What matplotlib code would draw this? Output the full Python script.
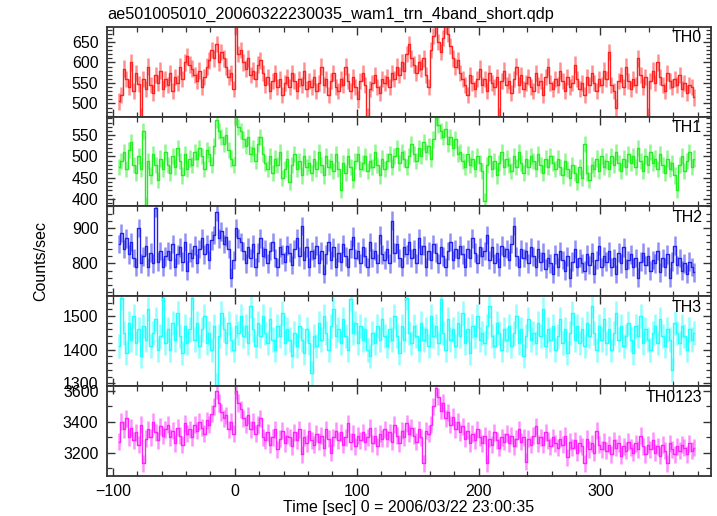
import numpy as np
import matplotlib.pyplot as plt
from matplotlib.ticker import MultipleLocator

# WAM light curves, 2 s bins starting at t = -95 s
t0 = -95.0
bin_width = 2.0

th0 = [505, 520, 585, 560, 540, 600, 530, 575, 548, 470,
       560, 535, 590, 545, 525, 570, 550, 580, 535, 560,
       545, 575, 530, 565, 550, 590, 560, 600, 615, 595,
       585, 570, 555, 580, 540, 565, 590, 605, 630, 610,
       645, 600, 625, 610, 590, 565, 575, 535, 690, 620,
       630, 600, 585, 610, 570, 580, 560, 595, 605, 575,
       545, 565, 530, 555, 575, 540, 560, 520, 550, 565,
       540, 575, 555, 530, 560, 545, 580, 535, 555, 540,
       565, 530, 550, 590, 545, 560, 520, 555, 575, 540,
       530, 560, 545, 590, 555, 530, 565, 540, 510, 555,
       575, 545, 470, 535, 550, 570, 540, 525, 560, 550,
       565, 540, 575, 560, 590, 570, 600, 580, 620, 645,
       610, 595, 575, 600, 585, 610, 570, 540, 630, 665,
       690, 650, 625, 660, 690, 670, 640, 610, 590, 605,
       575, 560, 545, 520, 570, 550, 535, 560, 585, 545,
       560, 530, 575, 550, 540, 565, 470, 555, 580, 545,
       555, 525, 560, 590, 545, 570, 535, 550, 565, 540,
       530, 575, 545, 555, 520, 565, 590, 550, 535, 560,
       545, 580, 555, 530, 565, 540, 550, 595, 560, 535,
       550, 520, 565, 545, 575, 550, 530, 560, 545, 580,
       560, 625, 545, 530, 490, 555, 570, 540, 590, 555,
       535, 560, 545, 610, 570, 540, 565, 470, 555, 580,
       550, 600, 565, 545, 530, 575, 555, 540, 560, 545,
       570, 535, 550, 525, 545, 540, 515]

th1 = [475, 490, 510, 470, 515, 535, 480, 460, 500, 470,
       560, 385, 490, 455, 505, 480, 445, 495, 470, 510,
       480, 460, 500, 475, 520, 490, 455, 505, 470, 495,
       480, 510, 495, 520, 500, 470, 515, 505, 480, 525,
       585, 560, 545, 530, 550, 515, 495, 480, 594, 570,
       560, 540, 525, 545, 505, 520, 490, 530, 545, 505,
       485, 470, 500, 460, 495, 480, 510, 450, 470, 495,
       440, 480, 505, 470, 490, 455, 500, 475, 485, 460,
       495, 470, 510, 480, 455, 500, 475, 490, 465, 505,
       470, 420, 485, 460, 500, 475, 445, 490, 505, 470,
       485, 500, 465, 490, 475, 510, 480, 455, 495, 470,
       490, 505, 475, 500, 520, 485, 510, 495, 475, 500,
       530, 505, 490, 520, 500, 535, 510, 525, 495, 540,
       590, 575, 560, 545, 565, 530, 545, 520, 540, 505,
       510, 490, 475, 505, 480, 495, 470, 500, 485, 465,
       395, 480, 500, 470, 490, 455, 485, 510, 475, 495,
       480, 465, 500, 475, 510, 485, 460, 495, 475, 500,
       490, 470, 505, 480, 460, 495, 475, 500, 485, 470,
       495, 475, 455, 490, 470, 450, 480, 460, 440, 475,
       450, 530, 460, 445, 480, 470, 495, 465, 500, 475,
       490, 470, 500, 480, 510, 485, 465, 495, 475, 505,
       485, 500, 475, 520, 490, 465, 500, 480, 510, 485,
       495, 470, 505, 480, 460, 495, 470, 485, 455, 420,
       480, 500, 465, 490, 510, 475, 495]

th2 = [855, 885, 840, 870, 825, 860, 815, 790, 900, 800,
       820, 850, 790, 830, 800, 955, 805, 835, 790, 820,
       835, 810, 855, 790, 825, 845, 805, 860, 780, 830,
       815, 850, 800, 840, 870, 825, 855, 810, 865, 880,
       945, 870, 890, 855, 875, 840, 760, 810, 900, 870,
       860, 835, 800, 845, 815, 855, 790, 830, 870, 820,
       840, 800, 835, 860, 815, 790, 845, 825, 805, 850,
       830, 795, 840, 870, 820, 905, 810, 845, 790, 835,
       815, 850, 800, 835, 770, 825, 860, 810, 845, 790,
       830, 805, 855, 820, 790, 840, 875, 815, 835, 800,
       845, 820, 790, 860, 815, 835, 800, 880, 825, 810,
       840, 800, 920, 830, 855, 815, 790, 845, 825, 860,
       815, 840, 800, 870, 825, 850, 790, 835, 810, 855,
       830, 800, 845, 820, 790, 835, 860, 810, 840, 815,
       850, 825, 790, 840, 815, 870, 830, 800, 845, 820,
       835, 880, 810, 845, 800, 830, 790, 850, 820, 840,
       810, 855, 905, 820, 790, 840, 815, 835, 800, 845,
       820, 790, 840, 805, 830, 785, 815, 800, 770, 825,
       790, 835, 810, 780, 820, 760, 805, 840, 790, 815,
       800, 780, 825, 795, 830, 770, 810, 850, 790, 820,
       805, 835, 790, 815, 770, 830, 800, 845, 785, 810,
       825, 790, 815, 760, 805, 830, 795, 820, 780, 810,
       800, 835, 775, 815, 790, 825, 760, 805, 850, 795,
       815, 780, 800, 770, 805, 790, 775]

th3 = [1410, 1555, 1450, 1390, 1480, 1430, 1500, 1420, 1460, 1380,
       1470, 1430, 1520, 1410, 1450, 1490, 1400, 1440, 1555, 1420,
       1460, 1400, 1480, 1430, 1510, 1440, 1390, 1470, 1420, 1460,
       1555, 1430, 1480, 1410, 1460, 1500, 1420, 1450, 1400, 1470,
       1295, 1440, 1510, 1460, 1420, 1480, 1430, 1400, 1470, 1450,
       1500, 1440, 1470, 1420, 1530, 1460, 1410, 1480, 1440, 1500,
       1450, 1420, 1490, 1430, 1400, 1470, 1440, 1510, 1420, 1460,
       1430, 1380, 1450, 1410, 1470, 1430, 1390, 1460, 1420, 1330,
       1440, 1410, 1480, 1430, 1500, 1450, 1400, 1470, 1520, 1440,
       1460, 1420, 1490, 1440, 1400, 1550, 1450, 1480, 1420, 1470,
       1430, 1460, 1400, 1380, 1450, 1420, 1470, 1430, 1490, 1440,
       1410, 1460, 1430, 1500, 1440, 1390, 1470, 1430, 1555, 1450,
       1420, 1470, 1440, 1400, 1480, 1430, 1460, 1410, 1500, 1440,
       1470, 1420, 1550, 1450, 1400, 1490, 1430, 1460, 1410, 1480,
       1440, 1510, 1420, 1460, 1390, 1470, 1440, 1500, 1430, 1450,
       1420, 1470, 1530, 1440, 1410, 1480, 1450, 1400, 1460, 1430,
       1470, 1410, 1450, 1500, 1420, 1460, 1380, 1440, 1490, 1430,
       1450, 1420, 1480, 1440, 1520, 1410, 1460, 1430, 1470, 1400,
       1440, 1490, 1420, 1460, 1390, 1450, 1510, 1430, 1470, 1420,
       1460, 1410, 1480, 1440, 1530, 1450, 1400, 1470, 1430, 1490,
       1420, 1460, 1400, 1450, 1510, 1430, 1470, 1410, 1440, 1480,
       1430, 1390, 1470, 1440, 1500, 1420, 1460, 1430, 1400, 1450,
       1470, 1420, 1490, 1440, 1410, 1460, 1430, 1340, 1480, 1450,
       1420, 1470, 1440, 1400, 1460, 1430, 1450]

th0123 = [3270, 3400, 3350, 3420, 3300, 3360, 3280, 3330, 3250, 3380,
          3130, 3290, 3350, 3300, 3400, 3330, 3280, 3370, 3310, 3350,
          3380, 3300, 3340, 3260, 3360, 3310, 3250, 3390, 3320, 3350,
          3300, 3380, 3340, 3400, 3360, 3320, 3410, 3380, 3450, 3500,
          3600, 3520, 3460, 3420, 3440, 3350, 3400, 3320, 3600, 3520,
          3480, 3420, 3380, 3440, 3350, 3400, 3320, 3380, 3420, 3300,
          3280, 3330, 3250, 3300, 3350, 3220, 3290, 3340, 3260, 3310,
          3300, 3240, 3330, 3280, 3350, 3190, 3300, 3260, 3340, 3280,
          3250, 3320, 3270, 3310, 3230, 3350, 3290, 3200, 3300, 3340,
          3280, 3330, 3250, 3300, 3390, 3270, 3320, 3240, 3310, 3280,
          3330, 3270, 3300, 3360, 3260, 3310, 3240, 3320, 3290, 3350,
          3290, 3330, 3270, 3380, 3310, 3260, 3340, 3300, 3390, 3320,
          3360, 3310, 3270, 3350, 3300, 3130, 3340, 3320, 3380, 3500,
          3620, 3560, 3470, 3520, 3420, 3460, 3380, 3430, 3350, 3400,
          3330, 3370, 3290, 3340, 3260, 3320, 3280, 3350, 3300, 3260,
          3310, 3130, 3290, 3250, 3330, 3280, 3230, 3300, 3270, 3320,
          3260, 3310, 3240, 3290, 3350, 3270, 3300, 3140, 3290, 3250,
          3310, 3370, 3260, 3300, 3250, 3330, 3280, 3240, 3300, 3260,
          3230, 3290, 3250, 3310, 3170, 3270, 3230, 3280, 3200, 3260,
          3240, 3130, 3290, 3220, 3260, 3200, 3340, 3250, 3220, 3270,
          3210, 3250, 3190, 3280, 3230, 3260, 3180, 3240, 3210, 3270,
          3230, 3200, 3260, 3220, 3310, 3240, 3190, 3250, 3220, 3280,
          3200, 3240, 3180, 3250, 3210, 3130, 3260, 3220, 3190, 3240,
          3210, 3250, 3230, 3190, 3260, 3210, 3230]

names = ["TH0", "TH1", "TH2", "TH3", "TH0123"]
series = [th0, th1, th2, th3, th0123]
errors = [20, 19, 26, 36, 55]
colors = ["#ff2020", "#22ee22", "#2222ee", "#22ffff", "#ff22ff"]
ylims = [(468, 687), (382, 594), (708, 960), (1292, 1559), (3050, 3630)]
ymajor = [50, 50, 100, 100, 200]
yminor = [10, 10, 20, 20, 100]

plt.rcParams['font.family'] = ['Liberation Sans', 'DejaVu Sans']

fig, axes = plt.subplots(5, 1, figsize=(7.17, 5.16), dpi=100, sharex=True)
fig.subplots_adjust(left=0.149, right=0.992, top=0.948, bottom=0.078, hspace=0)

for i, ax in enumerate(axes):
    y = np.array(series[i], dtype=float)
    t = t0 + bin_width * np.arange(len(y))
    ax.errorbar(t, y, yerr=errors[i], fmt='none', ecolor=colors[i],
                alpha=0.5, elinewidth=1.8)
    ax.step(t, y, where='mid', color=colors[i], lw=1.0)
    ax.set_ylim(*ylims[i])
    ax.set_xlim(-105, 391)
    ax.yaxis.set_major_locator(MultipleLocator(ymajor[i]))
    ax.yaxis.set_minor_locator(MultipleLocator(yminor[i]))
    ax.xaxis.set_major_locator(MultipleLocator(100))
    ax.xaxis.set_minor_locator(MultipleLocator(20))
    ax.tick_params(which='both', direction='in', top=True, right=True,
                   labelsize=11.5, color='#333333', pad=6)
    ax.tick_params(which='major', length=6, width=1.0)
    ax.tick_params(which='minor', length=3.5, width=0.9)
    for s in ax.spines.values():
        s.set_color('#333333')
        s.set_linewidth(1.3)
    ax.text(0.985, 0.96, names[i], transform=ax.transAxes, ha='right',
            va='top', fontsize=11.5)

axes[-1].xaxis.set_major_formatter(plt.FuncFormatter(
    lambda v, p: "\u2212%d" % -v if v < 0 else "%d" % v))

fig.text(0.149, 0.972, "ae501005010_20060322230035_wam1_trn_4band_short.qdp",
         ha='left', va='center', fontsize=11.7)
fig.text(0.057, 0.495, "Counts/sec", rotation=90, ha='center', va='center',
         fontsize=11.5)
axes[-1].set_xlabel("Time [sec] 0 = 2006/03/22 23:00:35", fontsize=11.5,
                    labelpad=0.5)

fig.savefig("out.png", dpi=100)
